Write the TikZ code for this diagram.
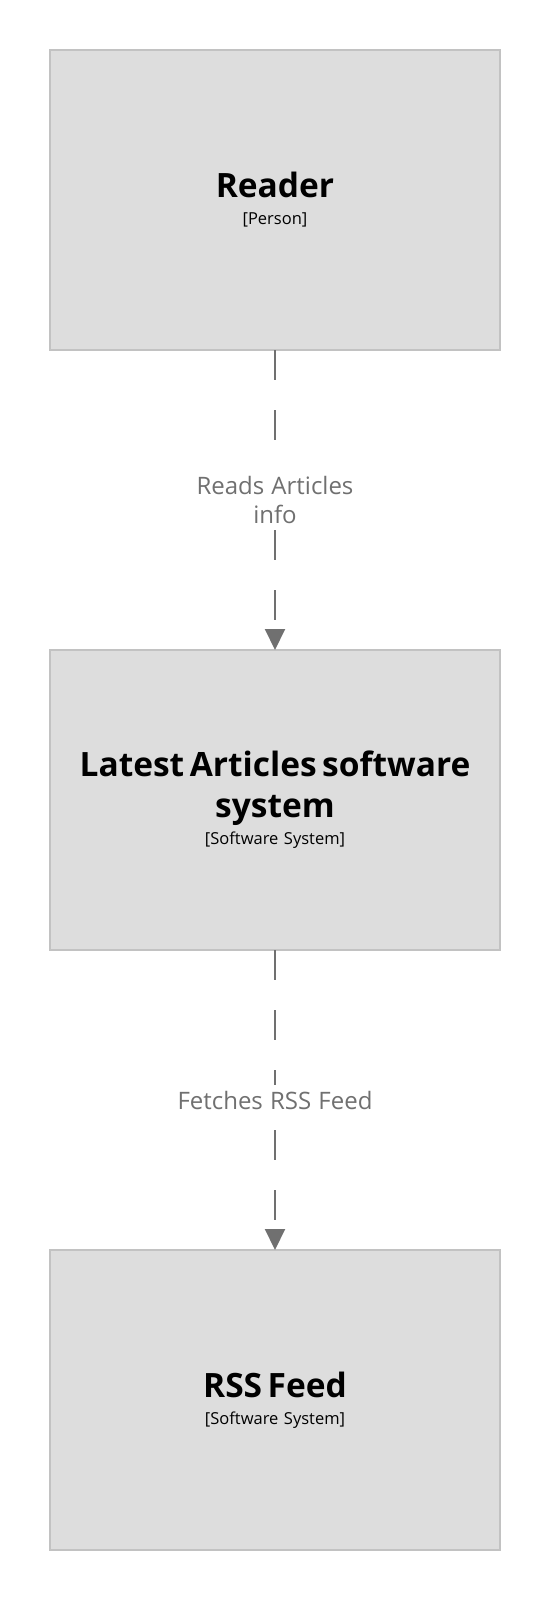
\documentclass[tikz,border=0pt]{standalone}
\usepackage{fontspec}
\setmainfont{Open Sans}[WordSpace=1.15]
\usetikzlibrary{positioning, arrows.meta}
\definecolor{boxfill}{HTML}{DDDDDD}
\definecolor{boxline}{HTML}{C2C2C2}
\definecolor{relgray}{HTML}{707070}
\newcommand{\titlefont}{\fontsize{33.5}{41}\selectfont\bfseries}
\newcommand{\subfont}{\fontsize{16.5}{27}\selectfont}
\tikzset{
  element/.style = {
    rectangle, draw=boxline, line width=1.5pt,
    fill=boxfill, minimum width=450pt, minimum height=300pt,
    text width=440pt, inner sep=0pt, outer sep=0pt, align=center,
    text=black, font=\subfont
  },
  edgelabel/.style = {
    fill=white, inner xsep=2pt, inner ysep=6pt, align=center, text=relgray,
    font=\fontsize{24}{29}\selectfont
  },
  relation/.style = {
    -{Triangle[length=21pt, width=20pt]}, line width=2pt,
    draw=relgray, dash pattern=on 30pt off 30pt
  }
}

\begin{document}
\begin{tikzpicture}
\useasboundingbox (0,0) rectangle (550pt,-1600pt);

% ----- ELEMENTS -----
\node[element] (reader) at (275pt,-200pt)
  {{\titlefont Reader\\}{[Person]}};
\node[element, below=300pt of reader] (latest)
  {{\titlefont Latest Articles software\\ system\\}{[Software System]}};
\node[element, below=300pt of latest] (rss)
  {{\titlefont RSS Feed\\}{[Software System]}};

% ----- RELATIONSHIPS -----
\draw[relation] (reader) -- node[edgelabel]{Reads Articles\\ info} (latest);
\draw[relation] (latest) -- node[edgelabel]{Fetches RSS Feed} (rss);

\end{tikzpicture}
\end{document}
